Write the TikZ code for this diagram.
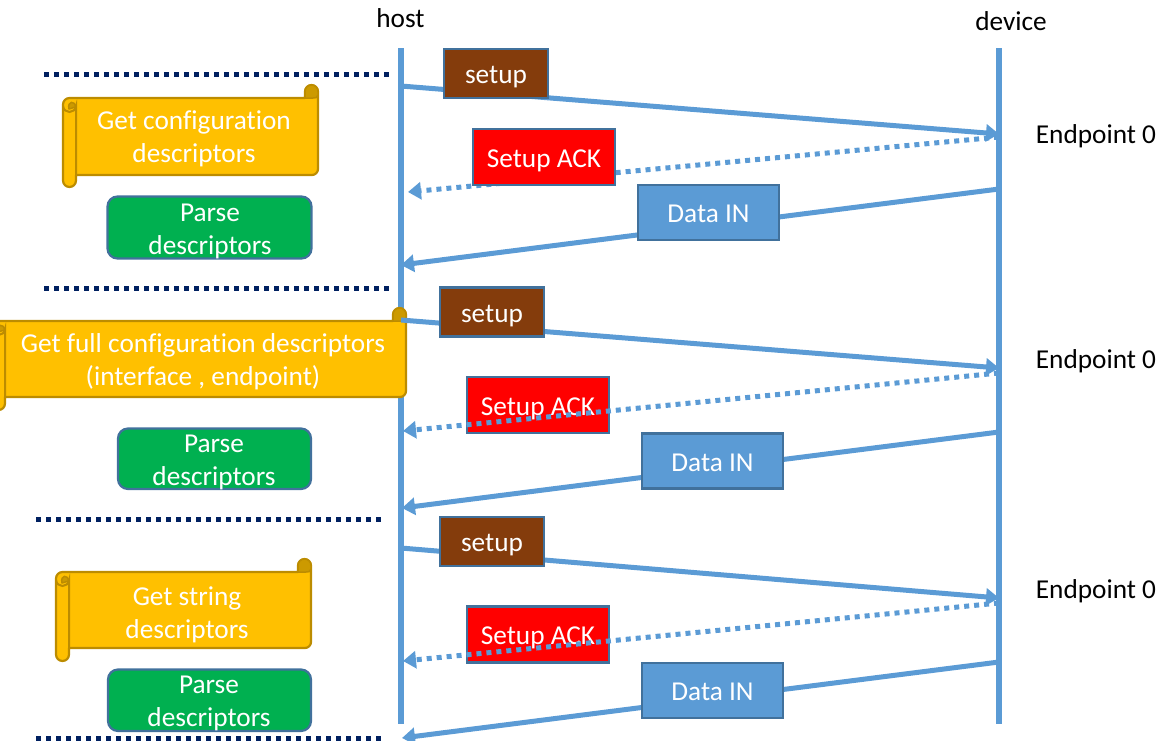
\documentclass[tikz,border=0pt]{standalone}
\usepackage{fontspec}
\setmainfont[Ligatures=NoCommon]{Carlito}
\usetikzlibrary{arrows.meta}
\definecolor{lineblue}{HTML}{5B9BD5}
\definecolor{edgeblue}{HTML}{41719C}
\definecolor{navy}{HTML}{002060}
\definecolor{brownbox}{HTML}{843C0C}
\definecolor{scrollfill}{HTML}{FFC000}
\definecolor{scrolledge}{HTML}{BC8C00}
\definecolor{scrollcurl}{HTML}{CC9A00}
\definecolor{greenbox}{HTML}{00B050}
\tikzset{
  txt/.style={inner sep=0pt,align=center,font=\fontsize{27.3}{33}\selectfont},
  wtxt/.style={txt,text=white},
  lifeline/.style={draw=lineblue,line width=5.5pt},
  msg/.style={draw=lineblue,line width=5pt,-{Triangle[length=13pt,width=17pt]}},
  dotmsg/.style={draw=lineblue,line width=5pt,dash pattern=on 5pt off 5pt,-{Triangle[length=13pt,width=17pt]}},
  sep/.style={draw=navy,line width=5pt,dash pattern=on 5pt off 5pt},
  boxstyle/.style={wtxt,draw=edgeblue,line width=2.2pt,minimum width=#1,inner sep=0pt,text height=26pt,text depth=6pt},
  setupbox/.style={boxstyle=104pt,fill=brownbox,minimum height=49pt},
  ackbox/.style={boxstyle=142pt,fill=red,minimum height=56pt},
  databox/.style={boxstyle=141pt,fill=lineblue,minimum height=55pt},
  parsebox/.style={draw=edgeblue,fill=greenbox,line width=2.2pt,rounded corners=10pt},
  scrollbody/.style={draw=scrolledge,fill=scrollfill,line width=2.2pt,line join=round},
  scrolldark/.style={draw=scrolledge,fill=scrollcurl,line width=1.5pt,line join=round},
}
% name, x0, x1, top, bottom, captop, tail, text centre x, text centre y, text
\newcommand{\scrollshape}[9]{%
  \path[scrollbody] ({#3-13},{#4}) -- ({#3-13},{#6+6.5})
    .. controls ({#3-13},{#6+2.9}) and ({#3-10.1},{#6}) .. ({#3-6.5},{#6})
    .. controls ({#3-2.9},{#6}) and ({#3},{#6+2.9}) .. ({#3},{#6+6.5})
    -- ({#3},{#5-6})
    .. controls ({#3},{#5-2.7}) and ({#3-2.7},{#5}) .. ({#3-6},{#5})
    -- ({#2+13},{#5}) -- ({#2+13},{#7-6.5})
    .. controls ({#2+13},{#7-2.9}) and ({#2+10.1},{#7}) .. ({#2+6.5},{#7})
    .. controls ({#2+2.9},{#7}) and ({#2},{#7-2.9}) .. ({#2},{#7-6.5})
    -- ({#2},{#4+6.5})
    .. controls ({#2},{#4+2.9}) and ({#2+2.9},{#4}) .. ({#2+6.5},{#4}) -- cycle;
  \path[scrolldark] ({#3-13},{#4}) -- ({#3-13},{#6+6.5})
    .. controls ({#3-13},{#6+2.9}) and ({#3-10.1},{#6}) .. ({#3-6.5},{#6})
    .. controls ({#3-2.9},{#6}) and ({#3},{#6+2.9}) .. ({#3},{#6+6.5})
    -- ({#3},{#4-3}) .. controls ({#3},{#4}) and ({#3-3},{#4}) .. ({#3-5},{#4}) -- cycle;
  \draw[draw=scrolledge,line width=2pt] ({#2},{#4+8}) .. controls ({#2+1},{#4+16}) and ({#2+12},{#4+16}) .. ({#2+13},{#4+8}) -- ({#2+13},{#5});
  \path[scrolldark] ({#2+6},{#4+11}) .. controls ({#2+4},{#4+3}) and ({#2+12},{#4+2}) .. ({#2+12.5},{#4+9}) -- cycle;
  \node[wtxt] (#1) at ({#8},{#9}) }
\begin{document}
\begin{tikzpicture}[x=1pt,y=-1pt]
\useasboundingbox (0,0) rectangle (1172,740);
% lifelines
\coordinate (hosttop) at (401,48);
\coordinate (hostbot) at (401,724);
\coordinate (devtop) at (999,48);
\coordinate (devbot) at (999,724);
\draw[lifeline] (hosttop) -- (hostbot);
\draw[lifeline] (devtop) -- (devbot);
\node[txt] (hostlbl) at (400.5,18) {host};
\node[txt] (devlbl) at (1011,21) {device};
\node[txt] (ep1) at (1096,136) {Endpoint 0};
\node[txt] (ep2) at (1096,361) {Endpoint 0};
\node[txt] (ep3) at (1096,591) {Endpoint 0};
% separators
\coordinate (s1a) at (44,74); \coordinate (s1b) at (390,74);
\coordinate (s2a) at (44,288); \coordinate (s2b) at (390,288);
\coordinate (s3a) at (36,519); \coordinate (s3b) at (381,519);
\coordinate (s4a) at (36,738); \coordinate (s4b) at (381,738);
\draw[sep] (s1a) -- (s1b);
\draw[sep] (s2a) -- (s2b);
\draw[sep] (s3a) -- (s3b);
\draw[sep] (s4a) -- (s4b);
% group 1 lines
\coordinate (a1h) at (401,86); \coordinate (a1d) at (999,134);
\coordinate (b1d) at (999,137); \coordinate (b1h) at (408,192);
\coordinate (c1d) at (999,189); \coordinate (c1h) at (401,265);
\draw[msg] (a1h) -- (a1d);
\draw[dotmsg] (b1d) -- (b1h);
\draw[msg] (c1d) -- (c1h);
% group 2 and 3 solid lines
\coordinate (c2d) at (999,432); \coordinate (c2h) at (402,508);
\coordinate (c3d) at (999,662); \coordinate (c3h) at (402,738);
\coordinate (a3h) at (401,548); \coordinate (a3d) at (999,598);
\draw[msg] (c2d) -- (c2h);
\draw[msg] (c3d) -- (c3h);
\draw[msg] (a3h) -- (a3d);
% scrolls
\scrollshape{cfg}{63}{318}{98}{175}{85}{187}{194}{139}{Get configuration\\descriptors};
\scrollshape{full}{-8}{406}{321}{397}{308}{410}{203}{362}{Get full configuration descriptors\\(interface , endpoint)};
\scrollshape{str}{56}{311}{572}{648}{559}{661}{187}{615}{Get string\\descriptors};
\coordinate (a2h) at (401,320); \coordinate (a2d) at (999,368);
\draw[msg] (a2h) -- (a2d);
% parse boxes
\draw[parsebox] (107.5,196.5) rectangle (311.5,258.5);
\node[wtxt] (p1) at (210,231.5) {Parse\\descriptors};
\draw[parsebox] (118,428.5) rectangle (311,489);
\node[wtxt] (p2) at (214,462.5) {Parse\\descriptors};
\draw[parsebox] (108,669.5) rectangle (311,731);
\node[wtxt] (p3) at (209,703.5) {Parse\\descriptors};
% message boxes
\node[setupbox] (su1) at (496,73.5) {setup};
\node[ackbox] (ack1) at (544,157) {Setup ACK};
\node[databox] (di1) at (708.5,212.5) {Data IN};
\node[setupbox] (su2) at (492,312) {setup};
\node[ackbox] (ack2) at (538,405) {Setup ACK};
\node[databox] (di2) at (712.5,461) {Data IN};
\node[setupbox] (su3) at (492,541.5) {setup};
\node[ackbox] (ack3) at (538,634.5) {Setup ACK};
\node[databox] (di3) at (712.5,690.5) {Data IN};
% dotted replies over the boxes
\coordinate (b2d) at (999,373); \coordinate (b2h) at (403,431);
\coordinate (b3d) at (999,603); \coordinate (b3h) at (403,661);
\draw[dotmsg] (b2d) -- (b2h);
\draw[dotmsg] (b3d) -- (b3h);
\end{tikzpicture}
\end{document}
